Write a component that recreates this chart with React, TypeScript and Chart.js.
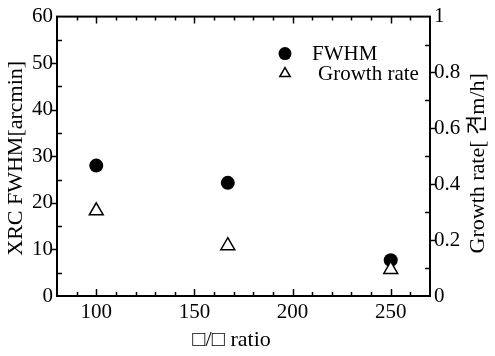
import React, { useEffect, useRef } from "react";
import { Chart, registerables } from "chart.js";

Chart.register(...registerables);

const xValues = [100, 167, 250];
const fwhmValues = [28, 24.3, 7.7];
const growthValues = [0.305, 0.18, 0.095];
const xTickValues = [100, 150, 200, 250];
const xTitle = "\u25A1/\u25A1 ratio";
const yTitle = "XRC FWHM[arcmin]";
const y1Title = "Growth rate[ \uACACm/h]";
const legendLabels = ["FWHM", "Growth rate"];

const FONT = "'Liberation Serif', 'Times New Roman', 'Noto Sans CJK KR', serif";

const framePlugin = {
  id: "frameTicks",
  afterDraw(chart: any) {
    const { ctx, chartArea: a, scales } = chart;
    const x = scales.x, y = scales.y, y1 = scales.y1;
    ctx.save();
    ctx.strokeStyle = "#000";
    ctx.lineWidth = 2;
    ctx.strokeRect(a.left, a.top, a.right - a.left, a.bottom - a.top);
    ctx.lineWidth = 1.5;
    ctx.beginPath();
    for (let v = 90; v <= 260; v += 10) {
      const px = Math.round(x.getPixelForValue(v)) + 0.5;
      const len = v % 50 === 0 ? 7 : 4;
      ctx.moveTo(px, a.bottom);
      ctx.lineTo(px, a.bottom - len);
      ctx.moveTo(px, a.top);
      ctx.lineTo(px, a.top + len);
    }
    for (let v = 5; v < 60; v += 5) {
      const py = Math.round(y.getPixelForValue(v)) + 0.5;
      if (v % 10 === 0) {
        ctx.moveTo(a.left, py);
        ctx.lineTo(a.left - 5, py);
      } else {
        ctx.moveTo(a.left, py);
        ctx.lineTo(a.left + 5, py);
      }
    }
    for (let i = 1; i < 10; i++) {
      const v = i / 10;
      const py = Math.round(y1.getPixelForValue(v)) + 0.5;
      if (i % 2 === 0) {
        ctx.moveTo(a.right, py);
        ctx.lineTo(a.right + 5, py);
      } else {
        ctx.moveTo(a.right, py);
        ctx.lineTo(a.right - 5, py);
      }
    }
    ctx.stroke();

    ctx.fillStyle = "#000";
    ctx.textAlign = "center";
    ctx.textBaseline = "middle";

    // x axis title
    ctx.font = `22px ${FONT}`;
    ctx.fillText(xTitle, (a.left + a.right) / 2 - 12, a.bottom + 44);

    // left axis title
    ctx.save();
    ctx.translate(16, (a.top + a.bottom) / 2 + 2);
    ctx.rotate(-Math.PI / 2);
    ctx.fillText(yTitle, 0, 0);
    ctx.restore();

    // right axis title (reads bottom to top)
    ctx.save();
    ctx.translate(a.right + 48, (a.top + a.bottom) / 2 + 7);
    ctx.rotate(-Math.PI / 2);
    ctx.fillText(y1Title, 0, 0);
    ctx.restore();

    // legend
    ctx.font = `21px ${FONT}`;
    const lx = a.left + 228;
    const ly1 = a.top + 37;
    const ly2 = a.top + 57;
    ctx.beginPath();
    ctx.arc(lx, ly1, 6.5, 0, Math.PI * 2);
    ctx.fill();
    ctx.beginPath();
    const r = 6;
    ctx.moveTo(lx, ly2 - r);
    ctx.lineTo(lx + r * 0.866, ly2 + r * 0.5);
    ctx.lineTo(lx - r * 0.866, ly2 + r * 0.5);
    ctx.closePath();
    ctx.lineWidth = 1.5;
    ctx.stroke();
    ctx.textAlign = "left";
    ctx.fillText(legendLabels[0], lx + 27, ly1 + 1);
    ctx.fillText(legendLabels[1], lx + 33, ly2 + 1);
    ctx.restore();
  },
};

export default function App() {
  const ref = useRef<HTMLCanvasElement>(null);
  useEffect(() => {
    if (!ref.current) return;
    Chart.defaults.font.family = FONT;
    Chart.defaults.color = "#000";
    const chart = new Chart(ref.current, {
      type: "scatter",
      data: {
        datasets: [
          {
            label: legendLabels[1],
            data: xValues.map((x, i) => ({ x, y: growthValues[i] })),
            yAxisID: "y1",
            pointStyle: "triangle",
            pointRadius: 8,
            pointBackgroundColor: "#fff",
            pointBorderColor: "#000",
            pointBorderWidth: 1.5,
          },
          {
            label: legendLabels[0],
            data: xValues.map((x, i) => ({ x, y: fwhmValues[i] })),
            yAxisID: "y",
            pointStyle: "circle",
            pointRadius: 7,
            pointBackgroundColor: "#000",
            pointBorderColor: "#000",
            pointBorderWidth: 0,
          },
        ],
      },
      options: {
        animation: false,
        responsive: true,
        maintainAspectRatio: false,
        layout: { padding: { top: 16, left: 0, right: 0, bottom: 0 } },
        plugins: { legend: { display: false }, tooltip: { enabled: false } },
        scales: {
          x: {
            type: "linear",
            min: 80,
            max: 270,
            grid: { display: false, drawTicks: false },
            border: { display: false },
            afterBuildTicks: (s: any) => {
              s.ticks = xTickValues.map((v) => ({ value: v }));
            },
            afterFit: (s: any) => {
              s.height = 60;
            },
            ticks: { font: { size: 21 }, padding: 4, maxRotation: 0, autoSkip: false },
          },
          y: {
            position: "left",
            min: 0,
            max: 60,
            grid: { display: false, drawTicks: false },
            border: { display: false },
            ticks: { stepSize: 10, font: { size: 21 }, padding: 4 },
            afterFit: (s: any) => {
              s.width = 57;
            },
          },
          y1: {
            position: "right",
            min: 0,
            max: 1,
            grid: { display: false, drawTicks: false },
            border: { display: false },
            ticks: {
              stepSize: 0.2,
              font: { size: 21 },
              padding: 4,
              callback: (v: any) => String(+Number(v).toFixed(1)),
            },
            afterFit: (s: any) => {
              s.width = 65;
            },
          },
        },
      },
      plugins: [framePlugin],
    });
    return () => chart.destroy();
  }, []);
  return (
    <div style={{ position: "absolute", left: 0, top: 0, width: 495, height: 356, background: "#fff" }}>
      <canvas ref={ref} />
    </div>
  );
}
